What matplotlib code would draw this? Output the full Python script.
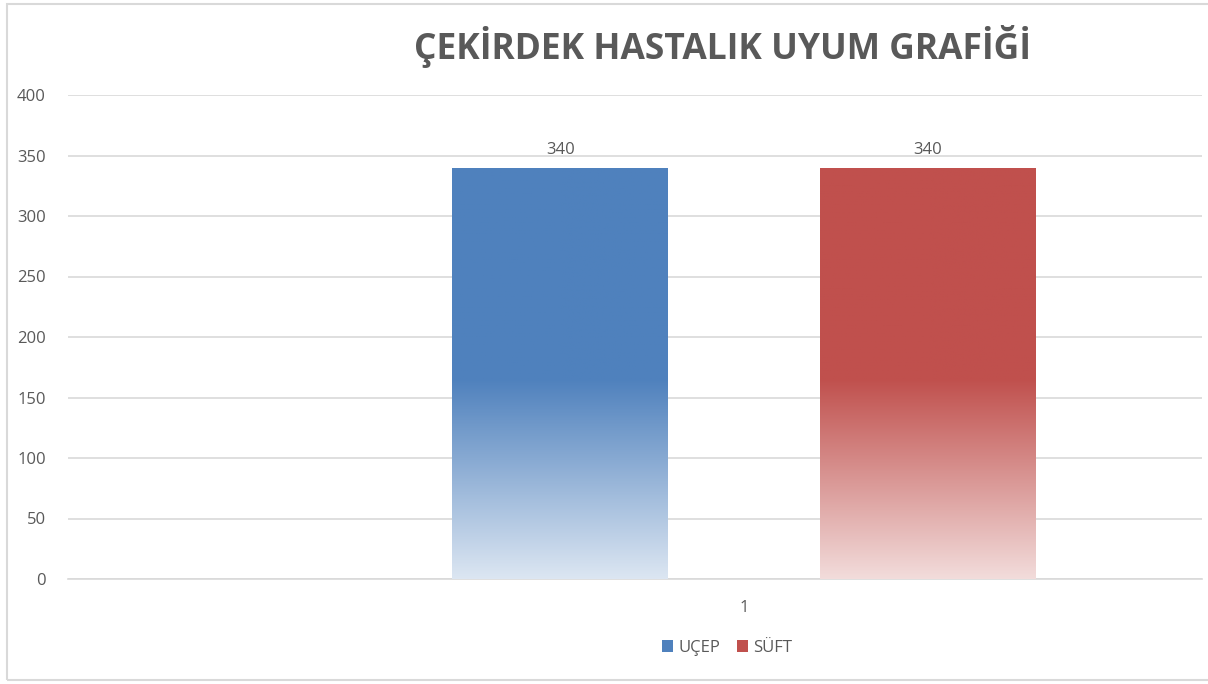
import numpy as np
import matplotlib.pyplot as plt
from matplotlib.colors import LinearSegmentedColormap
from matplotlib.patches import Rectangle

title = 'ÇEKİRDEK HASTALIK UYUM GRAFİĞİ'
category = ['1']
series = ['UÇEP', 'SÜFT']
values = [340, 340]
top_colors = ['#4F81BD', '#C0504D']
bottom_colors = ['#DCE6F2', '#F2DCDB']
yticks = [0, 50, 100, 150, 200, 250, 300, 350, 400]

plt.rcParams['font.family'] = ['Open Sans', 'DejaVu Sans']

W, H = 1208, 684
fig = plt.figure(figsize=(W / 100, H / 100), dpi=100)

# outer frame of the chart
fig.patches.append(Rectangle((7 / W, 4 / H), 1.2, 676 / H, transform=fig.transFigure,
                             fill=False, edgecolor='#D9D9D9', linewidth=1.5))

ax = fig.add_axes([68 / W, 1 - 579 / H, (1202 - 68) / W, (579 - 95) / H])

width = 0.35
offset = 0.2978
xs = [-offset, offset]

for i in range(len(series)):
    bar = ax.bar(xs[i], values[i], width=width, color=top_colors[i], label=series[i],
                 zorder=2)[0]
    # gradient: solid above ~165, fading to pale at the base
    cmap = LinearSegmentedColormap.from_list('g' + str(i),
                                             [(0, bottom_colors[i]), (165 / 340, top_colors[i]),
                                              (1, top_colors[i])])
    grad = np.linspace(0, 1, 256).reshape(-1, 1)
    im = ax.imshow(grad, cmap=cmap, aspect='auto', origin='lower',
                   extent=[xs[i] - width / 2, xs[i] + width / 2, 0, values[i]], zorder=3)
    im.set_clip_path(bar)
    ax.text(xs[i], values[i] + 8, str(values[i]), ha='center', va='bottom',
            fontsize=12, color='#595959')

ax.set_xlim(-1.0955, 0.7422)
ax.set_ylim(0, 400)
ax.set_yticks(yticks)
ax.set_yticklabels([str(v) for v in yticks])
ax.set_xticks([0])
ax.set_xticklabels(category)
ax.tick_params(axis='both', length=0, labelsize=12, labelcolor='#595959')
ax.tick_params(axis='y', pad=16)
ax.tick_params(axis='x', pad=15)
ax.grid(axis='y', color='#D9D9D9', linewidth=1.2, zorder=0)
ax.set_axisbelow(True)
for s in ['top', 'right', 'left']:
    ax.spines[s].set_visible(False)
ax.spines['bottom'].set_color('#D9D9D9')
ax.spines['bottom'].set_linewidth(1.2)

fig.text(723 / W, 1 - 47 / H, title, ha='center', va='center', fontsize=25.5,
         fontweight='bold', color='#595959')

leg = ax.legend(loc='center', bbox_to_anchor=(727 / W, 1 - 648 / H),
                bbox_transform=fig.transFigure, ncol=2, frameon=False,
                fontsize=12, handlelength=0.7, handleheight=0.7, handletextpad=0.3,
                columnspacing=1.0, labelcolor='#595959')

fig.savefig('out.png', dpi=100, facecolor='white')
